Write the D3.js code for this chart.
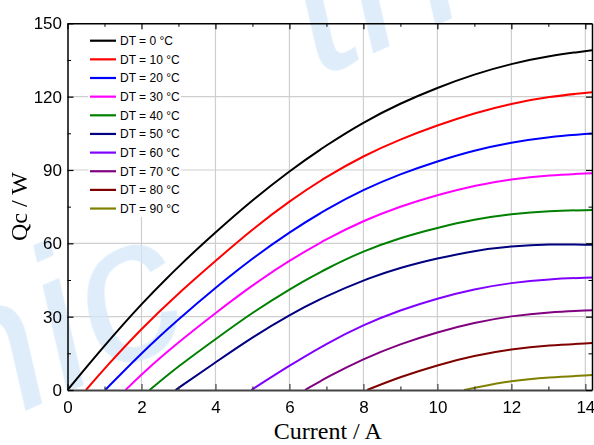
<!DOCTYPE html>
<html>
<head>
<meta charset="utf-8">
<script src="https://cdn.jsdelivr.net/npm/d3@7"></script>
<style>
  html, body { margin: 0; padding: 0; background: #fff; }
  svg { display: block; }
</style>
</head>
<body>
<svg id="chart" width="594" height="445"></svg>
<script>
// ---- data ----
const legendLabels = ["DT = 0 °C", "DT = 10 °C", "DT = 20 °C", "DT = 30 °C", "DT = 40 °C",
                      "DT = 50 °C", "DT = 60 °C", "DT = 70 °C", "DT = 80 °C", "DT = 90 °C"];
const seriesColors = ["#000000", "#ff0000", "#0000ff", "#ff00ff", "#008000",
                      "#000080", "#8000ff", "#800080", "#800000", "#808000"];
const xTicks = [0, 2, 4, 6, 8, 10, 12, 14];
const yTicks = [0, 30, 60, 90, 120, 150];

// [current (A), Qc (W)]
const dt0  = [[0,0],[1,18.2],[2,35.3],[3,50.6],[4,64.5],[5,77.7],[6,89.6],[7,100.2],[8,109.6],[9,117.3],[10,123.7],[11,129.2],[12,133.5],[13,136.6],[14.18,139]];
const dt10 = [[0.5,0],[1,8.8],[2,25.2],[3,39.6],[4,52.8],[5,65.8],[6,77.3],[7,87.3],[8,95.8],[9,102.6],[10,108.3],[11,113.3],[12,117.2],[13,120],[14.18,121.8]];
const dt20 = [[1.02,0],[2,15.2],[3,29],[4,41.9],[5,53.9],[6,64.6],[7,74],[8,82],[9,88.4],[10,93.6],[11,98.1],[12,101.3],[13,103.6],[14.18,104.9]];
const dt30 = [[1.57,0],[2,6.5],[3,19.6],[4,31.5],[5,42.9],[6,53],[7,61.8],[8,69.3],[9,75.2],[10,79.8],[11,83.7],[12,86.3],[13,87.9],[14.18,88.7]];
const dt40 = [[2.22,0],[3,9.8],[4,20.8],[5,31.7],[6,41.3],[7,49.7],[8,56.9],[9,62.3],[10,66.4],[11,69.8],[12,72],[13,73.3],[14.18,73.6]];
const dt50 = [[2.92,0],[4,11.3],[5,21.6],[6,30.8],[7,38.5],[8,45],[9,50.1],[10,53.9],[11,57],[12,58.8],[13,59.7],[14.18,59.4]];
const dt60 = [[4.97,0],[6,10],[7,19],[8,26.7],[9,32.7],[10,37.5],[11,41.3],[12,43.9],[13,45.4],[14.18,46]];
const dt70 = [[6.42,0],[7,5.1],[8,12.8],[9,18.9],[10,23.7],[11,27.6],[12,30.3],[13,31.9],[14.18,32.6]];
const dt80 = [[8.1,0],[9,5.4],[10,10.2],[11,14.1],[12,16.7],[13,18.3],[14.18,19.2]];
const dt90 = [[10.72,0],[11,0.9],[12,3.8],[13,5.2],[14.18,6.1]];
const allSeries = [dt0, dt10, dt20, dt30, dt40, dt50, dt60, dt70, dt80, dt90];

// ---- layout ----
const L = 67.5, R = 592, T = 23.3, B = 390;
const svg = d3.select("#chart");
const x = d3.scaleLinear().domain([0, 14.18]).range([L, R]);
const y = d3.scaleLinear().domain([0, 150]).range([B, T]);

// grid
const grid = svg.append("g").attr("stroke", "#cfcfcf").attr("stroke-width", 1.2);
grid.selectAll("line.v").data(xTicks.filter(d => d > 0)).join("line")
  .attr("x1", d => x(d)).attr("x2", d => x(d)).attr("y1", T).attr("y2", B);
grid.selectAll("line.h").data(yTicks.filter(d => d > 0 && d < 150)).join("line")
  .attr("y1", d => y(d)).attr("y2", d => y(d)).attr("x1", L).attr("x2", R);

// watermark
const wm = svg.append("g").attr("fill", "#d4e7fa").attr("opacity", 0.75)
  .style("font-family", "'Liberation Sans', Arial, sans-serif").style("font-style", "italic");
wm.append("text").attr("transform", "translate(-40,440) rotate(-24)")
  .style("font-size", "205px").text("nic");
wm.append("text").attr("transform", "translate(318,78) rotate(-24)")
  .style("font-size", "205px").text("th");

// legend background
svg.append("rect").attr("x", 88).attr("y", T + 1).attr("width", 93).attr("height", 217 - T - 1)
  .attr("fill", "#fff");

// curves
svg.append("clipPath").attr("id", "clip").append("rect")
  .attr("x", L).attr("y", T).attr("width", R - L).attr("height", B - T);
const line = d3.line().x(d => x(d[0])).y(d => y(d[1])).curve(d3.curveBasis);
svg.append("g").attr("clip-path", "url(#clip)")
  .selectAll("path").data(allSeries).join("path")
  .attr("d", line).attr("fill", "none")
  .attr("stroke", (d, i) => seriesColors[i]).attr("stroke-width", 2);

// axes
const font = "'Liberation Sans', Arial, sans-serif";
const minorX = d3.range(1, 15, 2);
const minorY = d3.range(15, 150, 30);

function styleAxis(g, color, width) {
  g.select(".domain").attr("stroke", color).attr("stroke-width", width);
  g.selectAll(".tick line").attr("stroke", color).attr("stroke-width", 1.2);
  g.selectAll("text").style("font-family", font).style("font-size", "17px").attr("fill", "#000");
}

// bottom
svg.append("g").attr("transform", `translate(0,${B})`)
  .call(d3.axisBottom(x).tickValues(minorX).tickSize(-3.5).tickFormat(""))
  .call(g => { g.select(".domain").remove(); g.selectAll(".tick line").attr("stroke", "#333").attr("stroke-width", 1.2); });
svg.append("g").attr("transform", `translate(0,${B})`)
  .call(d3.axisBottom(x).tickValues(xTicks).tickSizeInner(-6).tickSizeOuter(0).tickPadding(11).tickFormat(d3.format("d")))
  .call(g => styleAxis(g, "#444", 2.2));
// top
svg.append("g").attr("transform", `translate(0,${T})`)
  .call(d3.axisTop(x).tickValues(minorX).tickSize(-3.5).tickFormat(""))
  .call(g => { g.select(".domain").remove(); g.selectAll(".tick line").attr("stroke", "#000"); });
svg.append("g").attr("transform", `translate(0,${T})`)
  .call(d3.axisTop(x).tickValues(xTicks).tickSizeInner(-6).tickSizeOuter(0).tickFormat(""))
  .call(g => styleAxis(g, "#000", 1.5));
// left
svg.append("g").attr("transform", `translate(${L},0)`)
  .call(d3.axisLeft(y).tickValues(minorY).tickSize(-3.5).tickFormat(""))
  .call(g => { g.select(".domain").remove(); g.selectAll(".tick line").attr("stroke", "#000"); });
svg.append("g").attr("transform", `translate(${L},0)`)
  .call(d3.axisLeft(y).tickValues(yTicks).tickSizeInner(-6).tickSizeOuter(0).tickPadding(5.5).tickFormat(d3.format("d")))
  .call(g => styleAxis(g, "#000", 1.5));
// right
svg.append("g").attr("transform", `translate(${R},0)`)
  .call(d3.axisRight(y).tickValues(minorY).tickSize(-3.5).tickFormat(""))
  .call(g => { g.select(".domain").remove(); g.selectAll(".tick line").attr("stroke", "#000"); });
svg.append("g").attr("transform", `translate(${R},0)`)
  .call(d3.axisRight(y).tickValues(yTicks).tickSizeInner(-6).tickSizeOuter(0).tickFormat(""))
  .call(g => styleAxis(g, "#000", 1.5));

// axis titles
svg.append("text").attr("x", (L + R) / 2 - 2).attr("y", 439).attr("text-anchor", "middle")
  .style("font-family", "'Liberation Serif', 'Times New Roman', serif").style("font-size", "24px")
  .text("Current / A");
svg.append("text").attr("transform", `translate(27,${(T + B) / 2}) rotate(-90)`).attr("text-anchor", "middle")
  .style("font-family", "'Liberation Serif', 'Times New Roman', serif").style("font-size", "24px")
  .text("Qc / W");

// legend
const leg = svg.append("g").selectAll("g").data(legendLabels).join("g")
  .attr("transform", (d, i) => `translate(0,${40.7 + i * 18.65})`);
leg.append("line").attr("x1", 90).attr("x2", 116).attr("y1", 0).attr("y2", 0)
  .attr("stroke", (d, i) => seriesColors[i]).attr("stroke-width", 2.2);
leg.append("text").attr("x", 120).attr("y", 0).attr("dy", "0.36em")
  .style("font-family", font).style("font-size", "12px").text(d => d);
</script>
</body>
</html>
